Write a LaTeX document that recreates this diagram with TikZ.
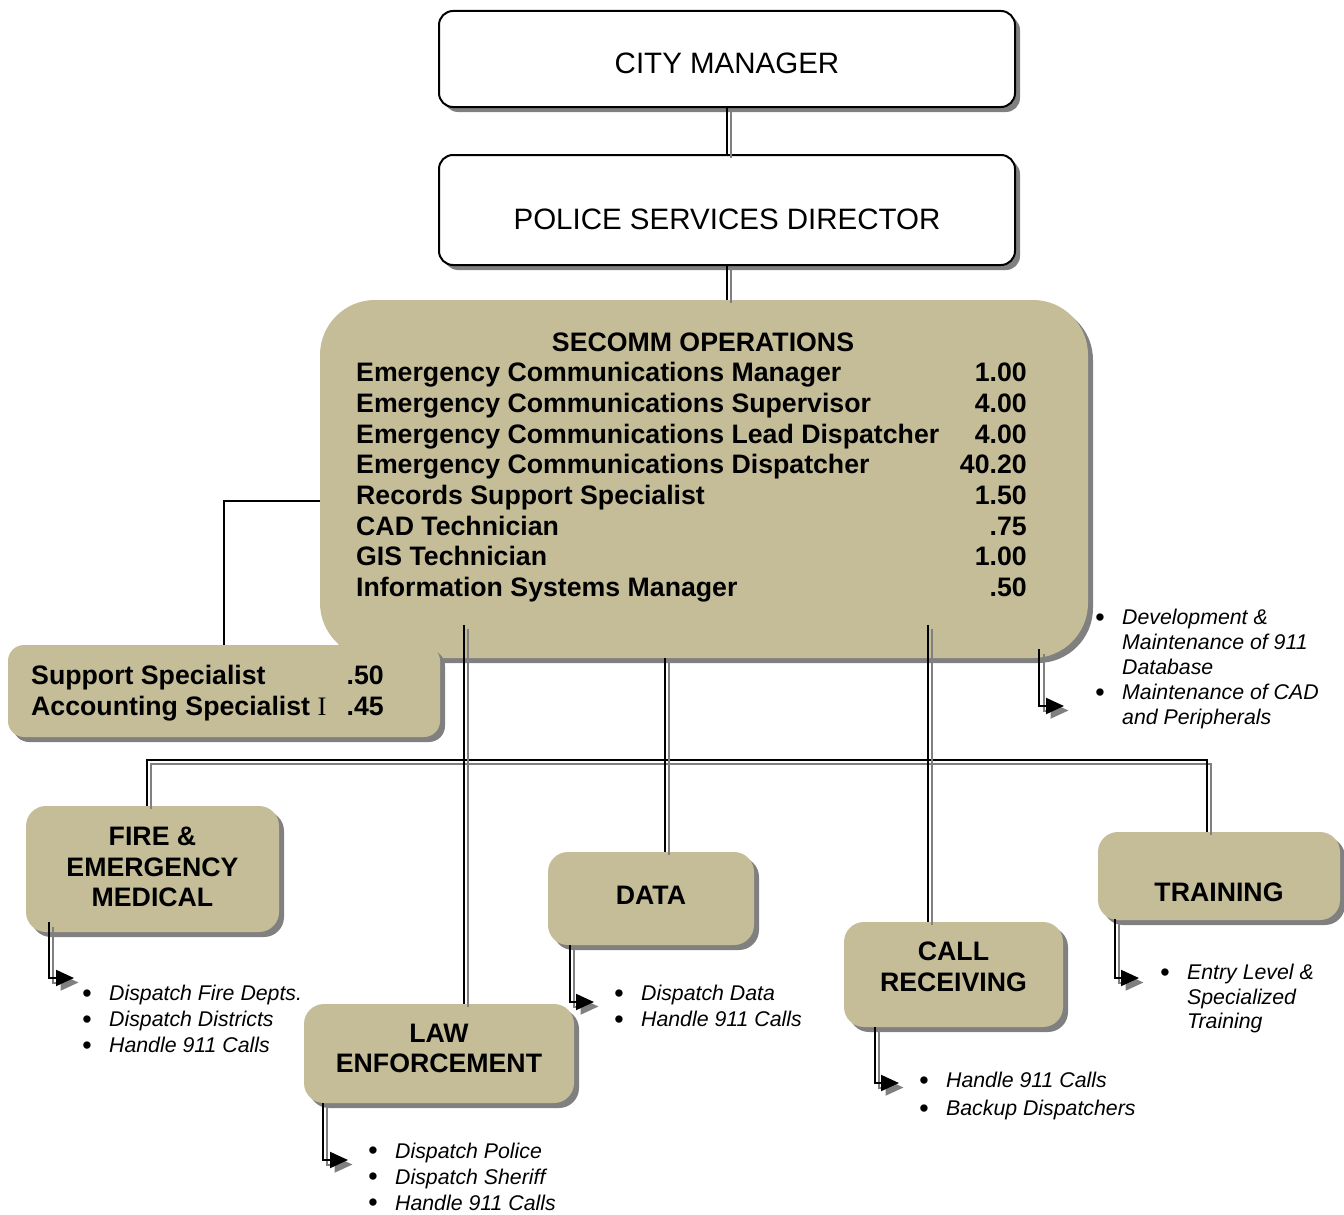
\documentclass[tikz,border=0pt]{standalone}
\usepackage{fontspec}
\setmainfont{Liberation Sans}
\newfontfamily\romanI{Liberation Serif}
\usetikzlibrary{arrows.meta,shadows}
\definecolor{secomm-tan}{HTML}{C4BD98}
\definecolor{shade-gray}{HTML}{808080}
\newcommand\dutydot{\raisebox{-1.5pt}{\fontsize{27}{27}\selectfont\textbullet}}
\tikzset{
  boxshade/.style={drop shadow={shadow xshift=5pt,shadow yshift=-5pt,fill=shade-gray,opacity=1}},
  office/.style={draw,line width=2pt,fill=white,rounded corners=14pt,inner sep=0pt,boxshade},
  unit/.style={fill=secomm-tan,rounded corners=20pt,inner sep=0pt,boxshade},
  unitname/.style={font=\fontsize{26.7}{30.5}\selectfont\bfseries,align=center,inner sep=0pt},
  staff/.style={font=\fontsize{26.7}{30}\selectfont\bfseries,inner sep=0pt},
  duties/.style={font=\fontsize{21.3}{26}\selectfont\itshape,anchor=base west,inner sep=0pt},
  link/.style={line width=2pt,preaction={draw=shade-gray,line width=2pt,transform canvas={shift={(3.5pt,-3.5pt)}}}},
  tie/.style={line width=2pt},
  feed/.style={line width=2pt,-{Triangle[length=18pt,width=16pt]},
    preaction={draw=shade-gray,line width=2pt,transform canvas={shift={(4.5pt,-4.5pt)}}}},
}

\begin{document}
\begin{tikzpicture}[x=1pt,y=-1pt]
  \useasboundingbox (0,0) rectangle (1344,1215);
  % city manager and director
  \node[office,minimum width=576,minimum height=96] (cm) at (727,59) {};
  \node[font=\fontsize{29.5}{34}\selectfont] (cm-t) at (727,63) {CITY MANAGER};
  \node[office,minimum width=576,minimum height=110] (psd) at (727,210) {};
  \node[font=\fontsize{29.5}{34}\selectfont] (psd-t) at (727,219) {POLICE SERVICES DIRECTOR};

  % secomm operations
  \node[unit,rounded corners=55pt,minimum width=768,minimum height=358] (secomm) at (704,479) {};
  \node[staff,anchor=base] (secomm-t) at (703,351) {SECOMM OPERATIONS};
  \foreach [count=\i] \r/\v in {{Emergency Communications Manager}/1.00, {Emergency Communications Supervisor}/4.00,
                                {Emergency Communications Lead Dispatcher}/4.00, {Emergency Communications Dispatcher}/40.20,
                                {Records Support Specialist}/1.50, {CAD Technician}/.75,
                                {GIS Technician}/1.00, {Information Systems Manager}/.50}{
    \node[staff,anchor=base west] (role\i) at (356,{351+30.7*\i}) {\r};
    \node[staff,anchor=base east] (fte\i) at (1027,{351+30.7*\i}) {\v};
  }

  % support staff
  \node[unit,rounded corners=16pt,minimum width=432,minimum height=92] (support) at (224,691) {};
  \foreach [count=\i] \r/\v in {{Support Specialist}/.50, {Accounting Specialist {\romanI\mdseries I}}/.45}{
    \node[staff,anchor=base west] (supp\i) at (31,{653+31*\i}) {\r};
    \node[staff,anchor=base east] (supp\i-v) at (384,{653+31*\i}) {\v};
  }

  % units
  \foreach \n/\cx/\cy/\w/\h/\ty/\t in {fire/152.5/869/253/126/867/{FIRE \&\\EMERGENCY\\MEDICAL},
                                       data/651/898.5/206/93/895/DATA,
                                       law/439/1053.5/270/99/1048.5/{LAW\\ENFORCEMENT},
                                       call/953.5/974.5/219/105/967/{CALL\\RECEIVING},
                                       train/1219/876/242/88/892/TRAINING}{
    \node[unit,minimum width=\w,minimum height=\h] (\n) at (\cx,\cy) {};
    \node[unitname] (\n-t) at (\cx,\ty) {\t};
  }

  % reporting lines
  \draw[link] (cm.south) -- (psd.north);
  \draw[link] (psd.south) -- (psd.south |- secomm.north);
  \draw[tie] ([yshift=-22pt]secomm.west) -| (support.north);
  \coordinate (bus) at (665,760);
  \draw[link] ([xshift=-5.5pt]fire.north) |- (bus) -| ([xshift=-12pt]train.north);
  \draw[link] ([xshift=-39pt]secomm.south) coordinate (s-data) -- (s-data |- data.north);
  \draw[link] ([xshift=-240pt,yshift=33pt]secomm.south) coordinate (s-law) -- (s-law |- law.north);
  \draw[link] ([xshift=224pt,yshift=33pt]secomm.south) coordinate (s-call) -- (s-call |- call.north);

  % duty arrows
  \coordinate (secomm-to) at (1064,706);
  \coordinate (fire-to) at (74,978);
  \coordinate (data-to) at (594,1002);
  \coordinate (law-to) at (348,1160);
  \coordinate (call-to) at (899,1083);
  \coordinate (train-to) at (1139,978);
  \draw[feed] ([xshift=-49pt,yshift=9pt]secomm.south east) |- (secomm-to);
  \draw[feed] ([xshift=23pt,yshift=10pt]fire.south west) |- (fire-to);
  \draw[feed] ([xshift=22pt]data.south west) |- (data-to);
  \draw[feed] ([xshift=19pt]law.south west) |- (law-to);
  \draw[feed] ([xshift=31pt]call.south west) |- (call-to);
  \draw[feed] ([xshift=17pt,yshift=1pt]train.south west) |- (train-to);

  % duty lists
  \node[duties,font=\fontsize{21.3}{25}\selectfont\itshape] (secomm-d) at (1095,624.5) {\begin{tabular}[t]{@{}l@{\hspace{17.5pt}}l@{}}
    \dutydot & Development \&\\ & Maintenance of 911\\ & Database\\
    \dutydot & Maintenance of CAD\\ & and Peripherals\end{tabular}};
  \node[duties] (fire-d) at (82,1000.5) {\begin{tabular}[t]{@{}l@{\hspace{17.5pt}}l@{}}
    \dutydot & Dispatch Fire Depts.\\ \dutydot & Dispatch Districts\\ \dutydot & Handle 911 Calls\end{tabular}};
  \node[duties] (data-d) at (614,1000.5) {\begin{tabular}[t]{@{}l@{\hspace{17.5pt}}l@{}}
    \dutydot & Dispatch Data\\ \dutydot & Handle 911 Calls\end{tabular}};
  \node[duties] (law-d) at (368,1158) {\begin{tabular}[t]{@{}l@{\hspace{17.5pt}}l@{}}
    \dutydot & Dispatch Police\\ \dutydot & Dispatch Sheriff\\ \dutydot & Handle 911 Calls\end{tabular}};
  \node[duties,font=\fontsize{21.3}{28}\selectfont\itshape] (call-d) at (919,1087.5) {\begin{tabular}[t]{@{}l@{\hspace{17.5pt}}l@{}}
    \dutydot & Handle 911 Calls\\ \dutydot & Backup Dispatchers\end{tabular}};
  \node[duties,font=\fontsize{21.3}{24.5}\selectfont\itshape] (train-d) at (1160,979.5) {\begin{tabular}[t]{@{}l@{\hspace{17.5pt}}l@{}}
    \dutydot & Entry Level \&\\ & Specialized\\ & Training\end{tabular}};
\end{tikzpicture}
\end{document}
